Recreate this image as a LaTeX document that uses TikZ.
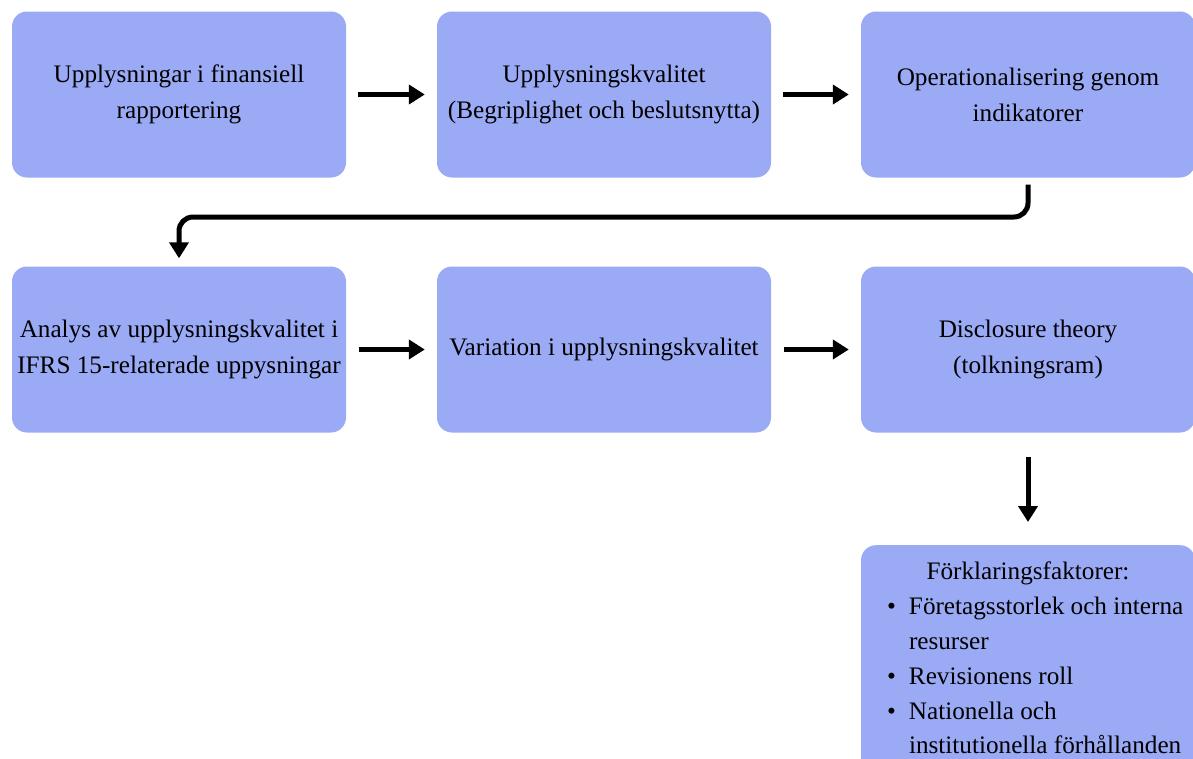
\documentclass[tikz,border=0pt]{standalone}
\usepackage{fontspec}
\setmainfont{Liberation Serif}
\usepackage{tikz}
\usetikzlibrary{arrows.meta}

\definecolor{boxblue}{RGB}{155,170,245}
\newcommand\factorbullet{\makebox[41pt][r]{\textbullet\hspace{13pt}}}
\newcommand\factorindent{\hspace*{41pt}}

\begin{document}
\begin{tikzpicture}[x=1pt, y=-1pt,
  box/.style={fill=boxblue, rounded corners=15pt, minimum width=334pt, minimum height=166pt,
    align=center, inner sep=0pt, font=\fontsize{25.2}{36}\selectfont},
  arr/.style={line width=5pt, -{Triangle[length=16pt,width=19pt]}}]
  \useasboundingbox (0,0) rectangle (1193,758);

  \node[box] (info) at (179,94.5) {Upplysningar i finansiell\\rapportering};
  \node[box] (quality) at (604,94.5) {Upplysningskvalitet\\(Begriplighet och beslutsnytta)};
  \node[box] (ops) at (1028,94.5) {Operationalisering genom\\indikatorer};
  \node[box] (analys) at (179,349.5) {Analys av upplysningskvalitet i\\IFRS 15-relaterade uppysningar};
  \node[box] (variation) at (604,349.5) {Variation i upplysningskvalitet};
  \node[box] (theory) at (1028,349.5) {Disclosure theory\\(tolkningsram)};
  \node[box, anchor=north, minimum height=0pt, inner xsep=7pt, inner ysep=17pt,
    align=left, font=\fontsize{25.2}{34.8}\selectfont] (factors) at (1028,545)
    {\makebox[320pt]{Förklaringsfaktorer:}\\
     \factorbullet Företagsstorlek och interna\\
     \factorindent resurser\\
     \factorbullet Revisionens roll\\
     \factorbullet Nationella och\\
     \factorindent institutionella förhållanden\\
     \strut};

  \coordinate (bend) at (179,217);
  \draw[arr, shorten <=12pt, shorten >=12pt] (info) -- (quality);
  \draw[arr, shorten <=12pt, shorten >=12pt] (quality) -- (ops);
  \draw[arr, rounded corners=14pt, shorten <=7pt, shorten >=8pt] (ops.south) |- (bend) -- (analys.north);
  \draw[arr, shorten <=13pt, shorten >=12pt] (analys) -- (variation);
  \draw[arr, shorten <=13pt, shorten >=12pt] (variation) -- (theory);
  \draw[arr, shorten <=24pt, shorten >=23pt] (theory) -- (factors);
\end{tikzpicture}
\end{document}
